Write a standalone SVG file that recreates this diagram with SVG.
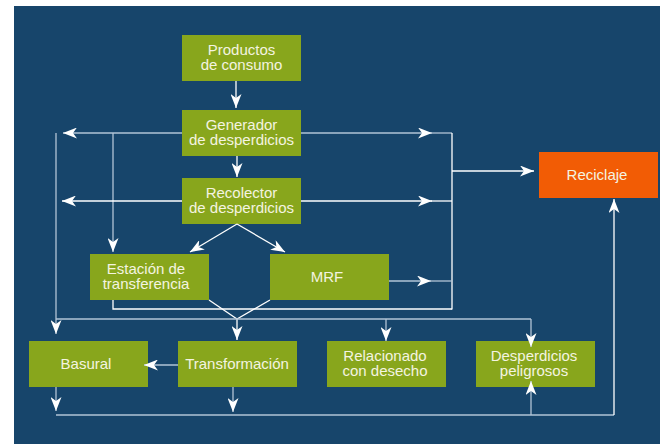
<svg xmlns="http://www.w3.org/2000/svg" width="660" height="444" viewBox="0 0 660 444">
<defs>
<style>
.bg{fill:#17456b}
.n rect{fill:#88a61c}
.n.o rect{fill:#f25c05}
.n text{font-family:"Liberation Sans",Arial,Helvetica,sans-serif;font-size:15px;fill:#f4f4e0;text-anchor:middle}
.c line,.c polyline{fill:none;stroke-width:1.3}
.w{stroke:#ffffff}
.g{stroke:#b2c4d6}
.a{marker-end:url(#ah)}
</style>
<marker id="ah" markerUnits="userSpaceOnUse" markerWidth="14" markerHeight="11" viewBox="0 0 14 11" refX="14" refY="5.5" orient="auto">
<path d="M0,0 L14,5.5 L0,11 L4,5.5 z" fill="#ffffff"/>
</marker>
</defs>
<rect x="0" y="0" width="660" height="444" fill="#ffffff"/>
<rect class="bg" x="14" y="6" width="646" height="438"/>

<g id="productos" class="n"><rect x="182" y="35" width="119" height="46"/><text x="241.5" y="54.5">Productos</text><text x="241.5" y="70">de consumo</text></g>
<g id="generador" class="n"><rect x="182" y="110" width="119" height="46"/><text x="241.5" y="129.5">Generador</text><text x="241.5" y="145">de desperdicios</text></g>
<g id="recolector" class="n"><rect x="182" y="178" width="119" height="46"/><text x="241.5" y="197.5">Recolector</text><text x="241.5" y="213">de desperdicios</text></g>
<g id="estacion" class="n"><rect x="90" y="254" width="119" height="46"/><text x="146" y="273.5">Estación de</text><text x="146" y="289">transferencia</text></g>
<g id="mrf" class="n"><rect x="270" y="254" width="119" height="46"/><text x="327" y="282">MRF</text></g>
<g id="reciclaje" class="n o"><rect x="539" y="152" width="119" height="46"/><text x="597" y="180">Reciclaje</text></g>
<g id="basural" class="n"><rect x="29" y="341" width="119" height="46"/><text x="86" y="369">Basural</text></g>
<g id="transformacion" class="n"><rect x="178" y="341" width="119" height="46"/><text x="237" y="369">Transformación</text></g>
<g id="relacionado" class="n"><rect x="327" y="341" width="119" height="46"/><text x="385" y="360.5">Relacionado</text><text x="385" y="376">con desecho</text></g>
<g id="peligrosos" class="n"><rect x="476" y="341" width="119" height="46"/><text x="534" y="360.5">Desperdicios</text><text x="534" y="376">peligrosos</text></g>

<g id="connectors" class="c">
<line class="w a" x1="236" y1="81" x2="236" y2="108"/>
<line class="w a" x1="237" y1="156" x2="237" y2="177"/>
<line class="g a" x1="182" y1="133" x2="63" y2="133"/>
<line class="g a" x1="56" y1="133" x2="56" y2="334"/>
<line class="g a" x1="113" y1="133" x2="113" y2="252"/>
<line class="g a" x1="301" y1="133" x2="432" y2="133"/>
<line class="g" x1="431" y1="133" x2="452" y2="133"/>
<line class="w" x1="452" y1="133" x2="452" y2="309.5"/>
<line class="w a" x1="452" y1="171" x2="534" y2="171"/>
<line class="w a" x1="182" y1="201" x2="62" y2="201"/>
<line class="w a" x1="301" y1="201" x2="432" y2="201"/>
<line class="w" x1="431" y1="201" x2="452" y2="201"/>
<line class="w a" x1="237" y1="224" x2="190" y2="252"/>
<line class="w a" x1="237" y1="224" x2="285" y2="252"/>
<line class="g a" x1="389" y1="281" x2="431" y2="281"/>
<line class="g" x1="430" y1="281" x2="452" y2="281"/>
<polyline class="w" points="113,300 113,309 452,309"/>
<polyline class="w" points="209,300 237,319 270,300"/>
<line class="w a" x1="237" y1="319" x2="237" y2="340"/>
<line class="g" x1="56" y1="319" x2="531" y2="319"/>
<line class="g a" x1="386" y1="319" x2="386" y2="341"/>
<line class="g a" x1="531" y1="319" x2="531" y2="347"/>
<line class="g a" x1="178" y1="365" x2="144" y2="365"/>
<line class="g a" x1="56" y1="387" x2="56" y2="411"/>
<line class="g a" x1="233" y1="387" x2="233" y2="412"/>
<line class="g" x1="56" y1="415" x2="614" y2="415"/>
<line class="g a" x1="531" y1="415" x2="531" y2="381"/>
<line class="w a" x1="614" y1="415" x2="614" y2="199"/>
</g>
</svg>
